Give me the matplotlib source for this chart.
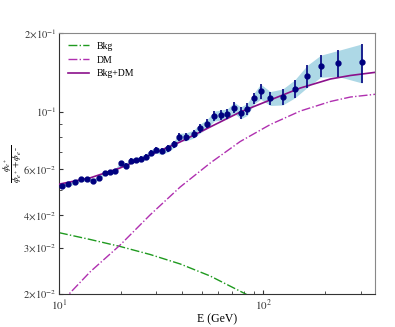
import matplotlib
matplotlib.use("Agg")
import matplotlib.pyplot as plt
from matplotlib.ticker import FixedLocator, NullFormatter, FixedFormatter
import numpy as np

plt.rcParams['font.family'] = ['Liberation Serif', 'DejaVu Serif']
plt.rcParams['mathtext.fontset'] = 'stix'

# Data points (energy in GeV, positron fraction, error)
data_E = [10.31, 11.10, 11.94, 12.82, 13.76, 14.73, 15.65, 16.71, 17.78, 18.88,
          20.07, 21.23, 22.49, 23.85, 25.23, 26.70, 28.25, 29.79, 31.80, 34.21,
          36.62, 38.88, 41.94, 45.53, 49.22, 53.15, 57.50, 62.03, 66.76, 71.93,
          77.59, 83.50, 90.05, 97.0, 108.2, 124.3, 142.3, 163.8, 190.9, 233.2, 304.7]
data_y = [0.0519, 0.0528, 0.0536, 0.0550, 0.0550, 0.0544, 0.0556, 0.0583, 0.0585, 0.0591,
          0.0635, 0.0619, 0.0649, 0.0652, 0.0660, 0.0672, 0.0696, 0.0712, 0.0704, 0.0723,
          0.0751, 0.0797, 0.0801, 0.0820, 0.0863, 0.0898, 0.0962, 0.0970, 0.0982, 0.1035,
          0.0990, 0.1021, 0.1124, 0.1194, 0.1124, 0.1140, 0.1224, 0.1369, 0.1499, 0.1539, 0.1552]
data_err = [0.0009, 0.0009, 0.0010, 0.0010, 0.0010, 0.0010, 0.0010, 0.0010, 0.0010, 0.0013,
            0.0014, 0.0014, 0.0014, 0.0014, 0.0017, 0.0018, 0.0018, 0.0019, 0.0019, 0.0022,
            0.0023, 0.0028, 0.0028, 0.0029, 0.0034, 0.0036, 0.0042, 0.0043, 0.0043, 0.0050,
            0.0052, 0.0054, 0.0055, 0.0079, 0.0069, 0.0080, 0.0097, 0.0133, 0.0145, 0.0177, 0.0266]

# Model curves
bkg_E = [10.0, 14.19, 19.91, 27.93, 39.18, 54.95, 80.1, 96.8]
bkg_y = [0.03436, 0.03236, 0.03042, 0.02834, 0.02607, 0.02344, 0.02018, 0.0187]

dm_E = [10.5, 11.2, 14.19, 19.91, 27.93, 39.18, 54.95, 77.1, 108.2, 151.8, 213.0, 266.9, 354.0]
dm_y = [0.0185, 0.0200, 0.0243, 0.0308, 0.0402, 0.0514, 0.0635, 0.0768, 0.0892, 0.1005, 0.1093, 0.1137, 0.1165]

tot_E = [10.0, 14.19, 19.91, 27.93, 39.18, 54.95, 77.1, 108.2, 151.8, 213.0, 266.9, 354.0]
tot_y = [0.0527, 0.0557, 0.0608, 0.0682, 0.0765, 0.0873, 0.0996, 0.1108, 0.1231, 0.1333, 0.1375, 0.1414]

ytick_vals = [0.02, 0.03, 0.04, 0.06, 0.1, 0.2]
ytick_labels = [r'$2\!\times\!10^{-2}$', r'$3\!\times\!10^{-2}$', r'$4\!\times\!10^{-2}$',
                r'$6\!\times\!10^{-2}$', r'$10^{-1}$', r'$2\!\times\!10^{-1}$']
xtick_vals = [10, 100]
xtick_labels = [r'$10^{1}$', r'$10^{2}$']

fig = plt.figure(figsize=(3.95, 3.27), dpi=100)
ax = fig.add_axes([59/395, (327-294)/327, (375-59)/395, (294-33)/327])

E = np.array(data_E)
y = np.array(data_y)
err = np.array(data_err)

ax.fill_between(E, y - err, y + err, color='#add8e6', lw=0, zorder=1)
ax.plot(bkg_E, bkg_y, '-.', color='#1f9a1f', lw=1.0, label='Bkg', zorder=2)
ax.plot(dm_E, dm_y, '-.', color='#b030b0', lw=1.0, label='DM', zorder=2)
ax.plot(tot_E, tot_y, '-', color='#8b108b', lw=1.2, label='Bkg+DM', zorder=3)
ax.errorbar(E, y, yerr=err, fmt='o', color='#00007f', ms=3.5, elinewidth=1.2,
            capsize=0, zorder=4)

ax.set_xscale('log')
ax.set_yscale('log')
ax.set_xlim(10, 352)
ax.set_ylim(0.02, 0.2)

ax.yaxis.set_major_locator(FixedLocator(ytick_vals))
ax.yaxis.set_major_formatter(FixedFormatter(ytick_labels))
ax.yaxis.set_minor_locator(FixedLocator([0.05, 0.07, 0.08, 0.09]))
ax.yaxis.set_minor_formatter(NullFormatter())
ax.xaxis.set_major_locator(FixedLocator(xtick_vals))
ax.xaxis.set_major_formatter(FixedFormatter(xtick_labels))
ax.xaxis.set_minor_locator(FixedLocator([20, 30, 40, 50, 60, 70, 80, 90, 200, 300]))
ax.xaxis.set_minor_formatter(NullFormatter())

ax.tick_params(which='both', direction='in', labelsize=7.5, colors='#333333', pad=2)
ax.tick_params(axis='x', which='both', labelsize=8, pad=3)
ax.tick_params(which='major', length=3)
ax.tick_params(which='minor', length=2)
for s in ['left', 'bottom']:
    ax.spines[s].set_color('#333333')
for s in ['top', 'right']:
    ax.spines[s].set_color('#888888')

ax.set_xlabel('E (GeV)', fontsize=8.5)
ax.xaxis.set_label_coords(0.5, -0.075)
ax.set_ylabel(r'$\dfrac{\phi_{e^+}}{\phi_{e^+}+\phi_{e^-}}$', fontsize=6.5)
ax.yaxis.set_label_coords(-0.11, 0.5)

ax.legend(loc='upper left', fontsize=7, frameon=False, handlelength=2.2)

fig.savefig('out.png', dpi=100)
